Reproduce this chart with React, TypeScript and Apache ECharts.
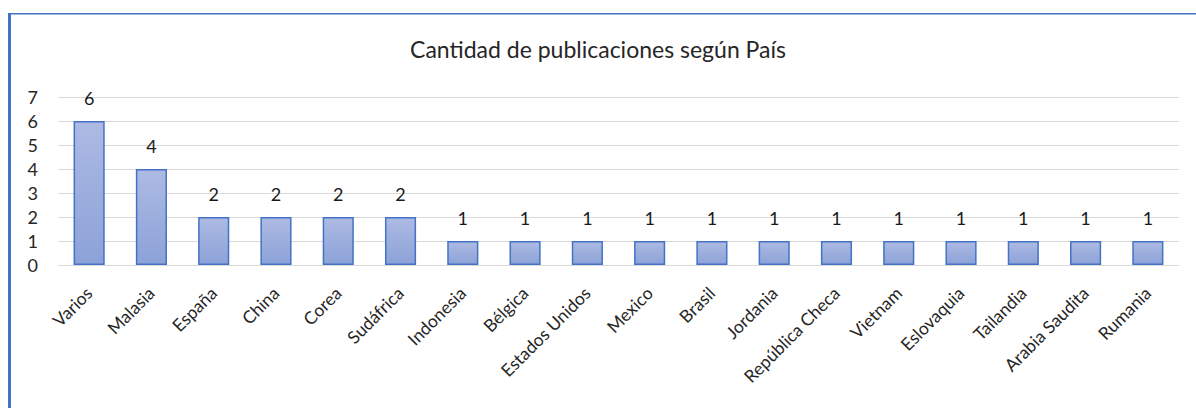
import React, { useEffect, useRef } from "react";
import * as echarts from "echarts";

const categories = [
  "Varios", "Malasia", "España", "China", "Corea", "Sudáfrica", "Indonesia", "Bélgica",
  "Estados Unidos", "Mexico", "Brasil", "Jordania", "República Checa", "Vietnam",
  "Eslovaquia", "Tailandia", "Arabia Saudita", "Rumania",
];
const values = [6, 4, 2, 2, 2, 2, 1, 1, 1, 1, 1, 1, 1, 1, 1, 1, 1, 1];
const titleText = "Cantidad de publicaciones según País";

const FONT = "Lato, 'Open Sans', sans-serif";

export default function App() {
  const ref = useRef<HTMLDivElement>(null);
  useEffect(() => {
    if (!ref.current) return;
    const chart = echarts.init(ref.current, undefined, { renderer: "svg" });
    chart.setOption({
      animation: false,
      backgroundColor: "#ffffff",
      title: {
        text: titleText,
        left: "center",
        top: 32,
        textStyle: { fontFamily: FONT, fontSize: 23, fontWeight: "normal", color: "#262626" },
      },
      graphic: [
        { type: "rect", shape: { x: 8, y: 13, width: 3, height: 400 }, style: { fill: "#4472c4" }, silent: true },
        { type: "rect", shape: { x: 8, y: 13, width: 1200, height: 1.5 }, style: { fill: "#4472c4" }, silent: true },
      ],
      grid: { left: 58, right: 17, top: 97, bottom: 143 },
      xAxis: {
        type: "category",
        data: categories,
        axisLine: { show: true, lineStyle: { color: "#d9d9d9", width: 1 } },
        axisTick: { show: false },
        axisLabel: {
          rotate: 45,
          interval: 0,
          margin: 25,
          fontFamily: FONT,
          fontSize: 17.5,
          color: "#262626",
        },
      },
      yAxis: {
        type: "value",
        min: 0,
        max: 7,
        interval: 1,
        axisLine: { show: false },
        axisTick: { show: false },
        splitLine: { lineStyle: { color: "#d9d9d9", width: 1 } },
        axisLabel: { fontFamily: FONT, fontSize: 18, color: "#262626", margin: 20 },
      },
      series: [
        {
          type: "bar",
          data: values,
          barWidth: "50%",
          itemStyle: {
            color: new echarts.graphic.LinearGradient(0, 0, 0, 1, [
              { offset: 0, color: "#adbae3" },
              { offset: 1, color: "#8ca2d8" },
            ]),
            borderColor: "#4472c4",
            borderWidth: 1.5,
          },
          label: {
            show: true,
            position: "top",
            distance: 14,
            fontFamily: FONT,
            fontSize: 18,
            color: "#1a1a1a",
          },
        },
      ],
    });
    return () => chart.dispose();
  }, []);
  return (
    <div
      ref={ref}
      style={{ position: "fixed", left: 0, top: 0, width: 1196, height: 408 }}
    />
  );
}
